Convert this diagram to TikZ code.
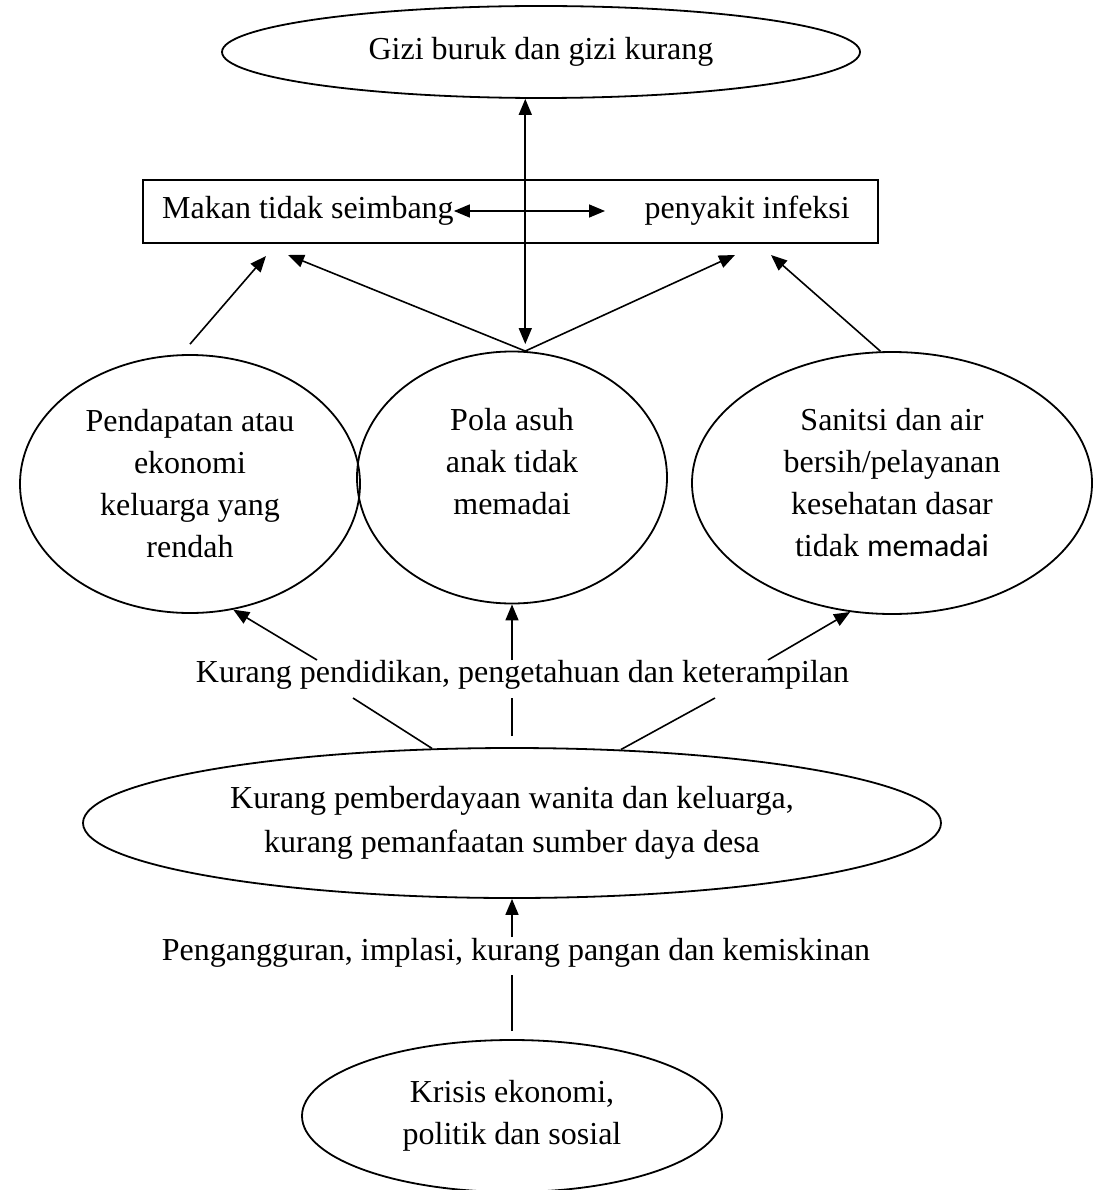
\documentclass[tikz,border=0pt]{standalone}
\usepackage{fontspec}
\setmainfont{Liberation Serif}
\newfontfamily\calibrifont{Carlito}
\usetikzlibrary{shapes.geometric,arrows.meta}
\begin{document}
\begin{tikzpicture}[x=1pt,y=-1pt,
  every node/.style={font=\fontsize{32}{42}\selectfont},
  ell/.style={draw, ellipse, line width=1.8pt, inner sep=0pt, align=center},
  txt/.style={align=center, inner sep=0pt},
  arr/.style={line width=1.6pt, -{Triangle[length=16pt,width=13pt]}},
  dblarr/.style={line width=1.6pt, {Triangle[length=16pt,width=13pt]}-{Triangle[length=16pt,width=13pt]}},
  seg/.style={line width=1.6pt}]
\useasboundingbox (0,0) rectangle (1105,1190);

% top outcome
\node[ell, minimum width=638pt, minimum height=92pt] (T) at (541,52) {Gizi buruk dan gizi kurang};

% box
\node[draw, line width=1.8pt, minimum width=735pt, minimum height=63pt, inner sep=0pt] (box) at (510.5,211.5) {};
\node[txt, anchor=west] (mk) at (162,211) {Makan tidak seimbang};
\node[txt, anchor=east] (pi) at (850,211) {penyakit infeksi};
\coordinate (hr) at (605,211);
\draw[dblarr] (mk.east) -- (hr);

% middle ellipses
\node[ell, minimum width=340pt, minimum height=258pt] (L) at (190,484)
  {Pendapatan atau\\ekonomi\\keluarga yang\\rendah};
\node[ell, minimum width=310pt, minimum height=252pt] (M) at (512,477.5) {};
\node[txt] (Mt) at (512,462) {Pola asuh\\anak tidak\\memadai};
\node[ell, minimum width=400pt, minimum height=262pt] (R) at (892,483)
  {Sanitsi dan air\\bersih/pelayanan\\kesehatan dasar\\tidak {\calibrifont memadai}};

% arrows to box
\coordinate (a1) at (266,256);
\coordinate (a2) at (288,255);
\coordinate (a3) at (735,255);
\coordinate (a4) at (771,255);
\draw[arr] ([yshift=10pt]L.north) -- (a1);
\draw[arr] (M.84) -- (a2);
\draw[arr] (M.84) -- (a3);
\draw[arr] (R.95) -- (a4);
\coordinate (vb) at ([yshift=7pt]M.84);
\draw[dblarr] (T.south -| vb) -- (vb);

% bottom ellipse
\node[ell, minimum width=858pt, minimum height=150pt, font=\fontsize{32}{44}\selectfont] (B) at (512,823)
  {Kurang pemberdayaan wanita dan keluarga,\\kurang pemanfaatan sumber daya desa};

% education level
\node[txt, anchor=base] (kp) at (522.5,682) {Kurang pendidikan, pengetahuan dan keterampilan};
\coordinate (k1) at (353,698);
\coordinate (k2) at (317,660);
\coordinate (k3) at (512,660);
\coordinate (k4) at (512,698);
\coordinate (k5) at (768,660);
\coordinate (k6) at (715,698);
\draw[seg] (B.137.3) -- (k1);
\draw[arr] (k2) -- (L.-71.4);
\draw[seg] ([yshift=11pt]B.north) -- (k4);
\draw[arr] (k3) -- (M.south);
\draw[seg] (B.34.7) -- (k6);
\draw[arr] (k5) -- (R.-108.2);

% crisis
\node[ell, minimum width=420pt, minimum height=152pt] (K) at (512,1116) {Krisis ekonomi,\\politik dan sosial};
\node[txt, anchor=base] (pg) at (516,960) {Pengangguran, implasi, kurang pangan dan kemiskinan};
\coordinate (p1) at (512,937);
\coordinate (p2) at (512,975);
\draw[arr] (p1) -- (B.south);
\draw[seg] ([yshift=8pt]K.north) -- (p2);
\end{tikzpicture}
\end{document}
